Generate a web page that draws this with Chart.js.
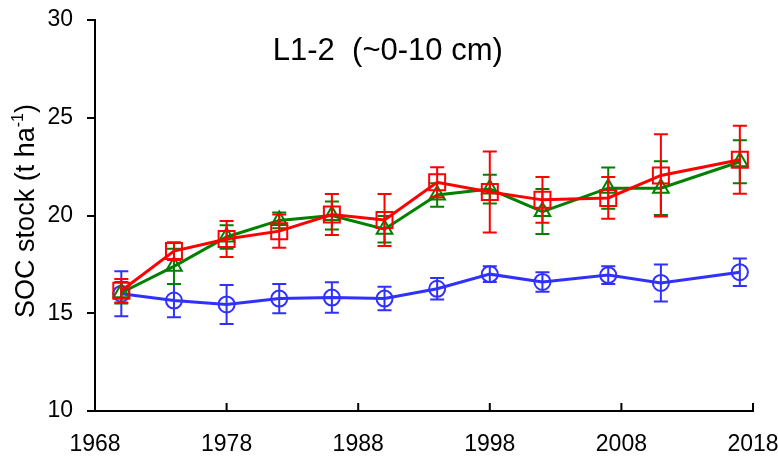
<!DOCTYPE html>
<html lang="en">
<head>
<meta charset="UTF-8">
<title>SOC stock L1-2</title>
<script src="https://cdn.jsdelivr.net/npm/chart.js"></script>
<style>
  html, body { margin: 0; padding: 0; background: #fff; }
  #wrap { width: 778px; height: 457px; }
</style>
</head>
<body>
<div id="wrap"><canvas id="socChart" width="778" height="457"></canvas></div>
<script>
// sampling years
const years = [1970, 1974, 1978, 1982, 1986, 1990, 1994, 1998, 2002, 2007, 2011, 2017];

// SOC stock (t/ha) and standard deviation per treatment
const blueVals  = [16.0, 15.65, 15.45, 15.75, 15.8, 15.75, 16.25, 17.0, 16.6, 16.95, 16.55, 17.1];
const blueErr   = [1.15, 0.85, 1.0, 0.75, 0.78, 0.6, 0.55, 0.4, 0.5, 0.45, 0.95, 0.7];
const greenVals = [16.05, 17.4, 18.9, 19.75, 20.0, 19.3, 21.05, 21.35, 20.2, 21.4, 21.4, 22.75];
const greenErr  = [0.55, 0.9, 0.6, 0.4, 0.72, 0.68, 0.6, 0.73, 1.15, 1.05, 1.38, 1.1];
const redVals   = [16.15, 18.18, 18.8, 19.2, 20.05, 19.77, 21.7, 21.2, 20.8, 20.9, 22.05, 22.85];
const redErr    = [0.6, 0.45, 0.92, 0.85, 1.05, 1.33, 0.77, 2.07, 1.17, 1.07, 2.1, 1.74];

const xTicks = [1968, 1978, 1988, 1998, 2008, 2018];
const yTicks = [10, 15, 20, 25, 30];
const titleText = 'L1-2  (~0-10 cm)';

const FONT = '"Liberation Sans", Arial, Helvetica, sans-serif';

function pts(vals) {
  return years.map((x, i) => ({ x: x, y: vals[i] }));
}

function series(vals, err, color, style, radius, order) {
  return {
    data: pts(vals),
    errors: err,
    borderColor: color,
    borderWidth: 3,
    pointStyle: style,
    pointRadius: radius,
    pointHoverRadius: radius,
    pointBorderWidth: 2,
    pointBorderColor: color,
    pointBackgroundColor: 'rgba(0,0,0,0)',
    tension: 0,
    order: order
  };
}

// vertical error bars with caps, drawn just before each dataset
const errorBars = {
  id: 'errorBars',
  beforeDatasetDraw(chart, args) {
    const ds = chart.data.datasets[args.index];
    if (!ds.errors) return;
    const xs = chart.scales.x, ys = chart.scales.y;
    const ctx = chart.ctx;
    ctx.save();
    ctx.strokeStyle = ds.borderColor;
    ctx.lineWidth = 2;
    ds.data.forEach((p, i) => {
      const px = xs.getPixelForValue(p.x);
      const top = ys.getPixelForValue(p.y + ds.errors[i]);
      const bot = ys.getPixelForValue(p.y - ds.errors[i]);
      ctx.beginPath();
      ctx.moveTo(px, top); ctx.lineTo(px, bot);
      ctx.moveTo(px - 7, top); ctx.lineTo(px + 7, top);
      ctx.moveTo(px - 7, bot); ctx.lineTo(px + 7, bot);
      ctx.stroke();
    });
    ctx.restore();
  }
};

// inward ticks on x axis, panel title and y axis label with superscript
const decorations = {
  id: 'decorations',
  afterDraw(chart) {
    const ctx = chart.ctx;
    const area = chart.chartArea;
    const xs = chart.scales.x;
    ctx.save();
    ctx.strokeStyle = '#000';
    ctx.lineWidth = 2;
    ctx.beginPath();
    xTicks.forEach(v => {
      const px = xs.getPixelForValue(v);
      ctx.moveTo(px, area.bottom);
      ctx.lineTo(px, area.bottom - 8);
    });
    ctx.stroke();

    ctx.fillStyle = '#000';
    ctx.font = '31px ' + FONT;
    ctx.textAlign = 'center';
    ctx.textBaseline = 'alphabetic';
    ctx.fillText(titleText, area.left + (area.right - area.left) * 0.445, 60);

    // rotated axis title
    const big = '27px ' + FONT, small = '16px ' + FONT;
    const a = 'SOC stock (t ha', sup = '-1', b = ')';
    ctx.font = big;
    const wa = ctx.measureText(a).width, wb = ctx.measureText(b).width;
    ctx.font = small;
    const ws = ctx.measureText(sup).width;
    const total = wa + ws + wb;
    ctx.translate(34, 211);
    ctx.rotate(-Math.PI / 2);
    ctx.textAlign = 'left';
    let x0 = -total / 2;
    ctx.font = big;
    ctx.fillText(a, x0, 0);
    ctx.font = small;
    ctx.fillText(sup, x0 + wa, -11);
    ctx.font = big;
    ctx.fillText(b, x0 + wa + ws, 0);
    ctx.restore();
  }
};

new Chart(document.getElementById('socChart'), {
  type: 'line',
  data: {
    datasets: [
      series(blueVals, blueErr, '#3030ff', 'circle', 8, 3),
      series(greenVals, greenErr, '#008000', 'triangle', 9, 2),
      series(redVals, redErr, '#ff0000', 'rect', 11.3, 1)
    ]
  },
  options: {
    responsive: false,
    animation: false,
    devicePixelRatio: 1,
    layout: { padding: { top: 20, right: 25, left: 0, bottom: 0 } },
    plugins: { legend: { display: false }, tooltip: { enabled: false } },
    scales: {
      x: {
        type: 'linear',
        min: 1968,
        max: 2018,
        afterBuildTicks(scale) { scale.ticks = xTicks.map(v => ({ value: v })); },
        afterFit(scale) { scale.height = 46; scale.paddingLeft = 0; scale.paddingRight = 0; },
        ticks: {
          font: { family: FONT, size: 23 }, color: '#000', padding: 20, maxRotation: 0,
          callback: v => String(v)
        },
        grid: { display: true, drawOnChartArea: false, drawTicks: false },
        border: { display: true, color: '#000', width: 2 }
      },
      y: {
        min: 10,
        max: 30,
        afterBuildTicks(scale) { scale.ticks = yTicks.map(v => ({ value: v })); },
        afterFit(scale) { scale.width = 95; scale.paddingTop = 0; scale.paddingBottom = 0; },
        ticks: { font: { family: FONT, size: 23 }, color: '#000', padding: 14 },
        grid: { display: true, drawOnChartArea: false, drawTicks: true, tickLength: 8, color: '#000', lineWidth: 2 },
        border: { display: true, color: '#000', width: 2 }
      }
    }
  },
  plugins: [errorBars, decorations]
});
</script>
</body>
</html>
